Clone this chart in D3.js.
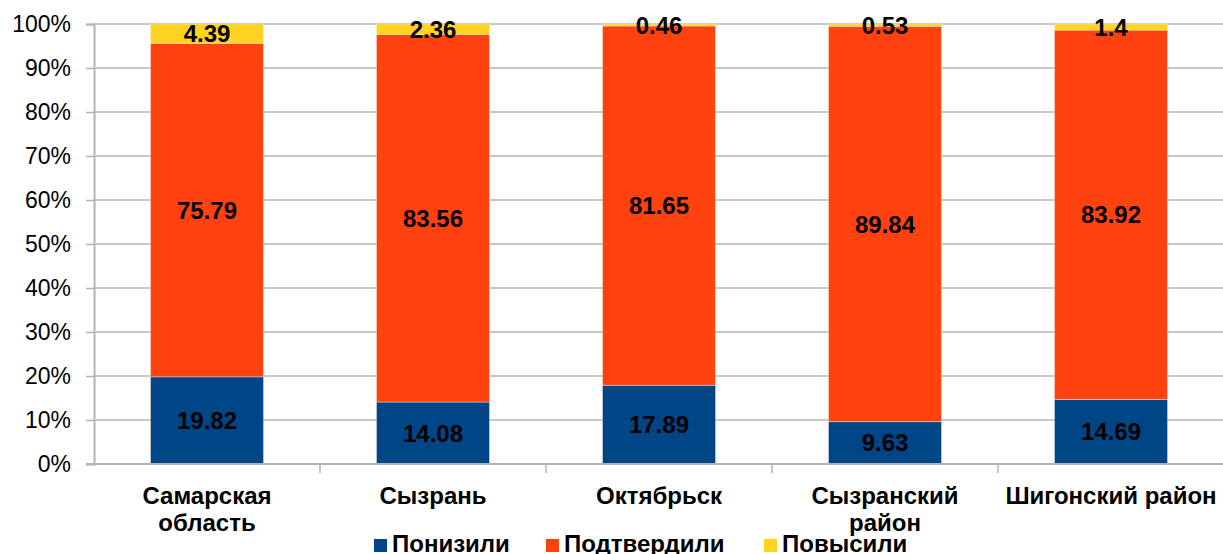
<!DOCTYPE html>
<html>
<head>
<meta charset="utf-8">
<script src="https://cdn.jsdelivr.net/npm/d3@7"></script>
<style>
	body { margin: 0; background: #fff; }
	text { font-family: "Liberation Sans", Arial, sans-serif; }
</style>
</head>
<body>
<script>

let width = 1223;
let height = 554;

let margins = {
	top: 24,
	right: -1,
	bottom: 90,
	left: 94
};

// Data
let categories = ["Самарская область", "Сызрань", "Октябрьск", "Сызранский район", "Шигонский район"];
let tickLabels = [["Самарская", "область"], ["Сызрань"], ["Октябрьск"], ["Сызранский", "район"], ["Шигонский район"]];
let lowered = [19.82, 14.08, 17.89, 9.63, 14.69];
let confirmed = [75.79, 83.56, 81.65, 89.84, 83.92];
let raised = [4.39, 2.36, 0.46, 0.53, 1.4];
let yTicks = [0, 10, 20, 30, 40, 50, 60, 70, 80, 90, 100];

let series = [
	{title: "Понизили", color: "#004586", values: lowered},
	{title: "Подтвердили", color: "#ff420e", values: confirmed},
	{title: "Повысили", color: "#ffd320", values: raised}
];

let xScale = d3.scaleBand()
	.domain(categories)
	.range([margins.left, width - margins.right])
	.paddingInner(0.5)
	.paddingOuter(0.25);

let yScale = d3.scaleLinear()
	.domain([0, 100])
	.range([height - margins.bottom, margins.top]);

let svg = d3.select("body")
	.append("svg")
		.attr("width", width)
		.attr("height", height);

// Grid lines
svg.append("g")
	.selectAll("line")
	.data(yTicks.slice(1))
	.enter().append("line")
		.attr("x1", margins.left)
		.attr("x2", width)
		.attr("y1", d => yScale(d))
		.attr("y2", d => yScale(d))
		.style("stroke", "#b3b3b3")
		.style("stroke-width", "1.5px");

// Stack the series
let table = categories.map((c, i) => {
	let row = {category: c};
	series.forEach(s => { row[s.title] = s.values[i]; });
	return row;
});
let stack = d3.stack().keys(series.map(s => s.title));
let layers = stack(table);

layers.forEach((layer, k) => {
	let g = svg.append("g");
	g.selectAll("rect")
		.data(layer)
		.enter().append("rect")
			.attr("x", d => xScale(d.data.category))
			.attr("y", d => yScale(d[1]))
			.attr("width", xScale.bandwidth())
			.attr("height", d => yScale(d[0]) - yScale(d[1]))
			.style("fill", series[k].color)
			.style("stroke", "rgba(255,255,255,0.35)")
			.style("stroke-width", "1px");
});

// Axes
let yAxis = d3.axisLeft(yScale)
	.tickValues(yTicks)
	.tickFormat(d => d + "%")
	.tickSize(8)
	.tickPadding(15);

let yg = svg.append("g")
	.attr("transform", "translate(" + margins.left + ",0)")
	.call(yAxis);
yg.select(".domain").style("stroke", "#b3b3b3").style("stroke-width", "2px");
yg.selectAll(".tick line").style("stroke", "#b3b3b3").style("stroke-width", "1.5px");
yg.selectAll(".tick text")
	.style("font-size", "23px")
	.style("fill", "#000");

let xAxis = d3.axisBottom(xScale).tickSize(0).tickFormat("");
let xg = svg.append("g")
	.attr("transform", "translate(0," + yScale(0) + ")")
	.call(xAxis);
xg.select(".domain").remove();
xg.append("line")
	.attr("x1", margins.left - 8)
	.attr("x2", width)
	.style("stroke", "#b3b3b3")
	.style("stroke-width", "2px");

// Category separators
let step = xScale.step();
xg.selectAll("line.sep")
	.data(categories.slice(1))
	.enter().append("line")
		.attr("class", "sep")
		.attr("x1", d => xScale(d) - step * 0.25)
		.attr("x2", d => xScale(d) - step * 0.25)
		.attr("y1", 0)
		.attr("y2", 9)
		.style("stroke", "#b3b3b3")
		.style("stroke-width", "1.5px");

// Category labels
xg.selectAll("text.cat")
	.data(categories)
	.enter().append("text")
		.attr("class", "cat")
		.attr("text-anchor", "middle")
		.attr("x", d => xScale(d) + xScale.bandwidth() / 2)
		.attr("y", 40)
		.style("font-size", "24px")
		.style("font-weight", "bold")
		.style("fill", "#000")
		.each(function(d, i) {
			let t = d3.select(this);
			tickLabels[i].forEach((line, j) => {
				t.append("tspan")
					.attr("x", xScale(d) + xScale.bandwidth() / 2)
					.attr("dy", j === 0 ? 0 : 27)
					.text(line);
			});
		});

// Value labels
layers.forEach((layer, k) => {
	svg.append("g")
		.selectAll("text")
		.data(layer)
		.enter().append("text")
			.attr("text-anchor", "middle")
			.attr("x", d => xScale(d.data.category) + xScale.bandwidth() / 2)
			.attr("y", d => (yScale(d[0]) + yScale(d[1])) / 2)
			.attr("dy", "0.36em")
			.style("font-size", "24px")
			.style("font-weight", "bold")
			.style("fill", "#000")
			.text(d => series[k].values[categories.indexOf(d.data.category)]);
});

// Legend
let legendX = [374, 546, 764];
let legend = svg.selectAll("g.legend")
	.data(series)
	.enter().append("g")
	.attr("class", "legend")
	.attr("transform", (d, i) => "translate(" + legendX[i] + ",539)");

legend.append("rect")
	.attr("width", 13)
	.attr("height", 13)
	.style("fill", d => d.color);

legend.append("text")
	.attr("x", 18)
	.attr("y", 13)
	.style("font-size", "24px")
	.style("font-weight", "bold")
	.style("fill", "#000")
	.text(d => d.title);

</script>
</body>
</html>
